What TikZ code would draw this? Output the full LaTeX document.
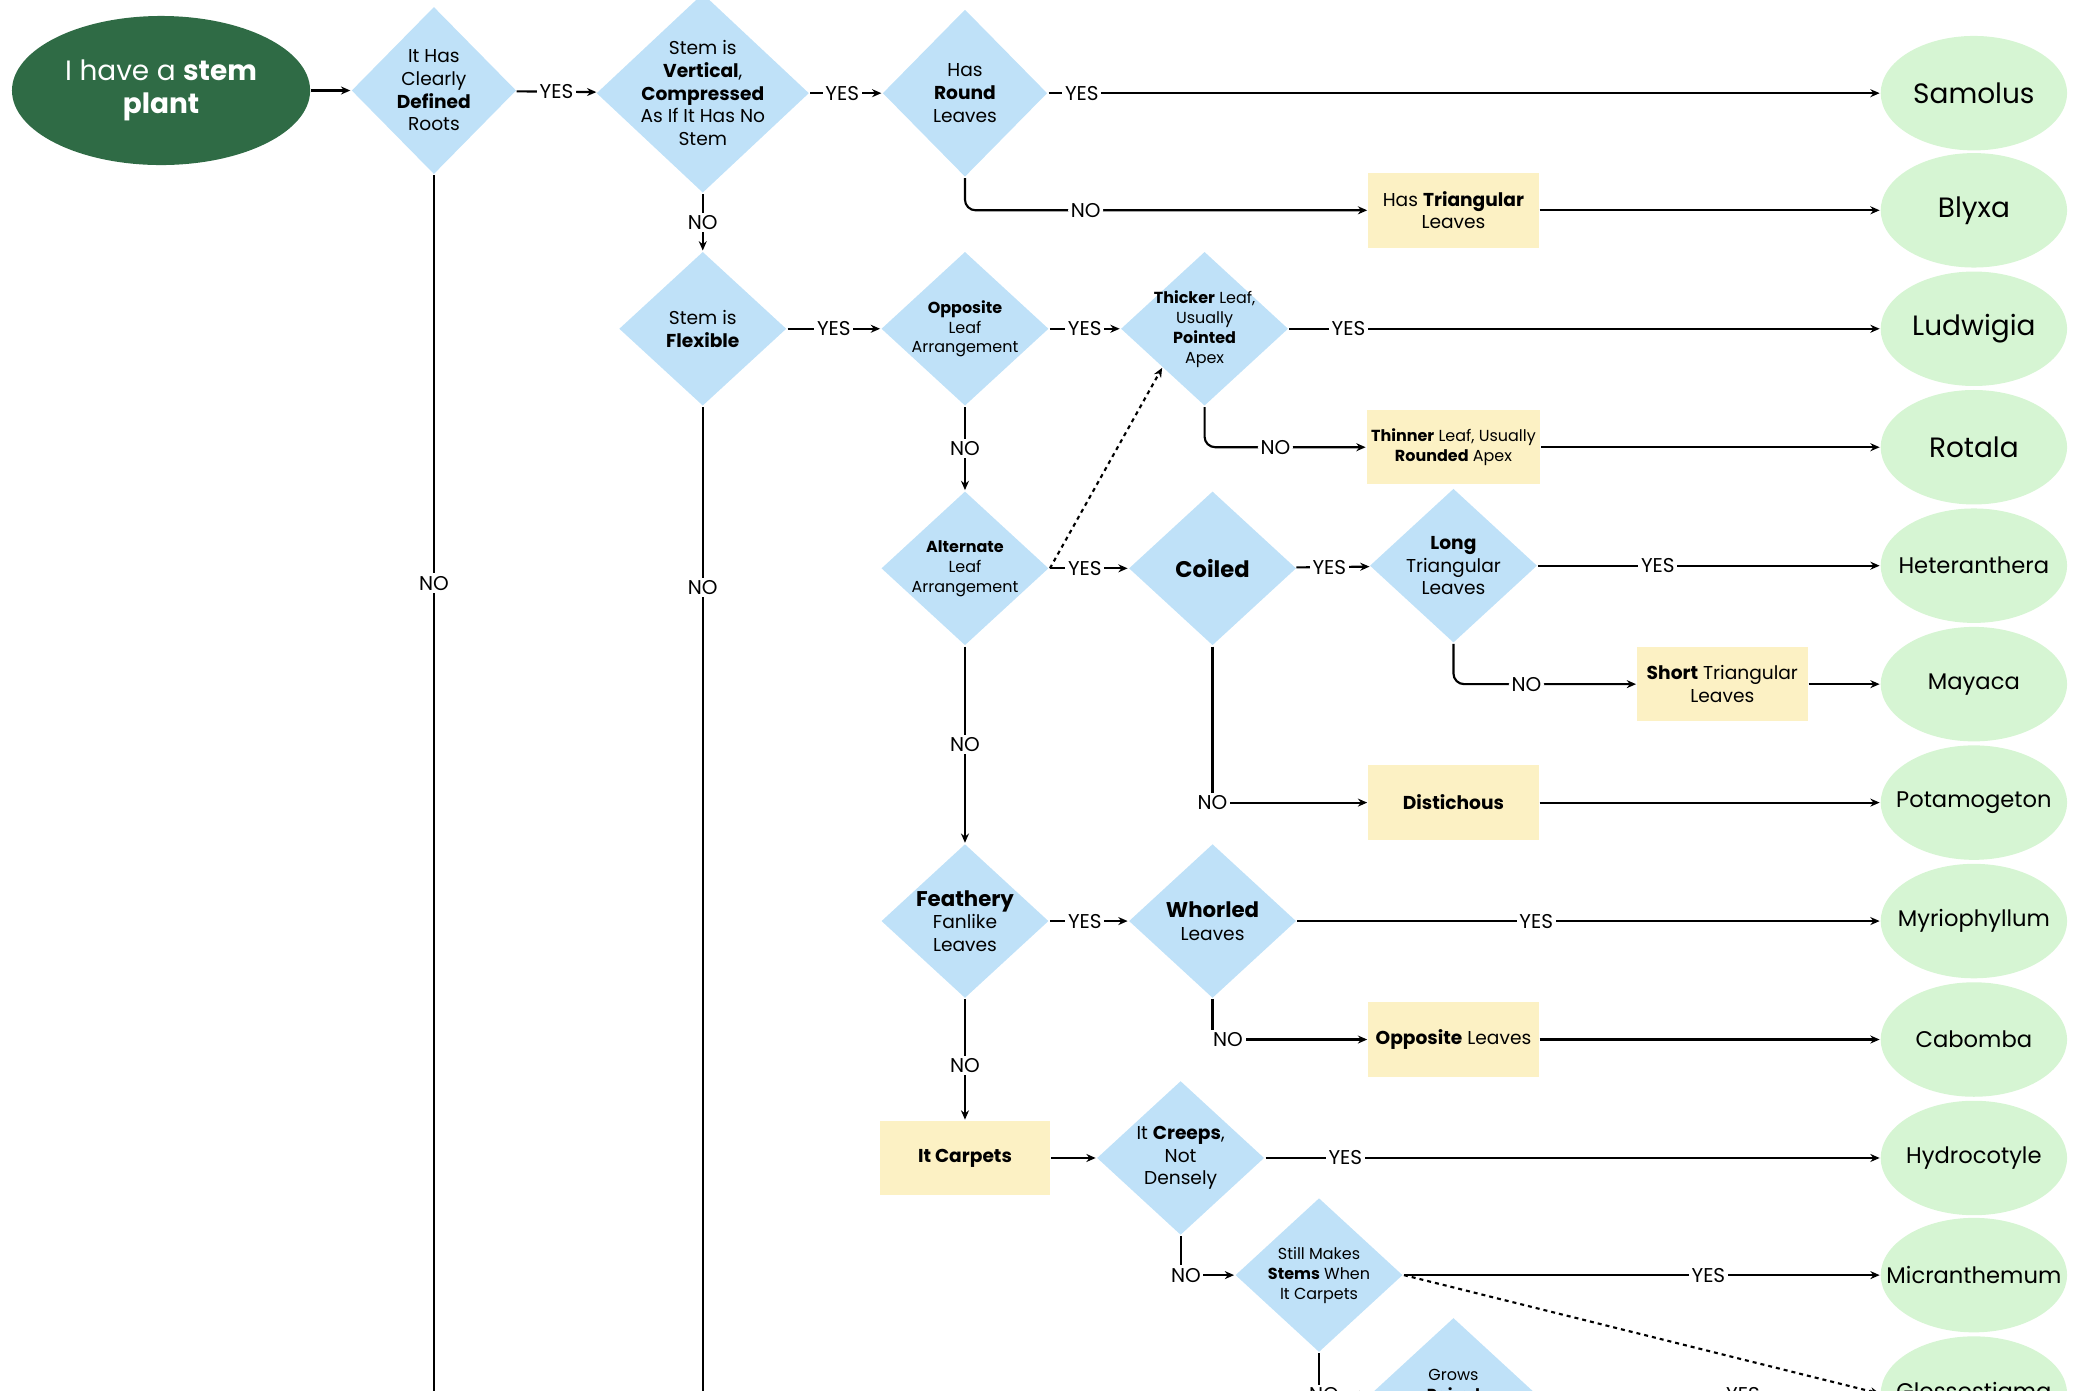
\documentclass[tikz,border=0pt]{standalone}
\usepackage{fontspec}
\setmainfont{Poppins}
\usetikzlibrary{shapes.geometric,arrows.meta,positioning}
\definecolor{dia}{HTML}{BFE1F8}
\definecolor{leaf}{HTML}{D6F5D3}
\definecolor{note}{HTML}{FCF1C4}
\definecolor{start}{HTML}{2F6B45}
\begin{document}
\begin{tikzpicture}[
    x=1pt, y=-1pt,
    % define styles
    q/.style={
        diamond, fill=dia, inner sep=0pt,
        minimum width=126pt, minimum height=116pt
    },
    qtext/.style={
        align=center, font=\fontsize{14}{17}\selectfont, inner sep=0pt
    },
    qsmall/.style={
        align=center, font=\fontsize{12}{15}\selectfont, inner sep=0pt
    },
    plant/.style={
        ellipse, fill=leaf, inner sep=0pt,
        minimum width=140pt, minimum height=86pt,
        label={[inner sep=0pt, font=\fontsize{17}{20}\selectfont]center:#1}
    },
    bigplant/.style={
        ellipse, fill=leaf, inner sep=0pt,
        minimum width=140pt, minimum height=86pt,
        label={[inner sep=0pt, font=\fontsize{21}{24}\selectfont]center:#1}
    },
    box/.style={
        rectangle, fill=note, minimum width=128pt, minimum height=56pt,
        align=center, font=\fontsize{14}{17}\selectfont
    },
    lab/.style={
        fill=white, inner sep=2pt, font=\fontsize{15}{17}\selectfont
    },
    >={Stealth[length=7pt,width=6pt]},
    line width=1.6pt
]
\useasboundingbox (0,0) rectangle (1568,1045);
\clip (0,0) rectangle (1568,1045);

% start node
\node[ellipse, fill=start, minimum width=224pt, minimum height=112pt,
      text=white, align=center, font=\fontsize{21}{25}\selectfont]
      (start) at (121,68) {I have a \textbf{stem}\\\textbf{plant}};

% questions
\node[q, minimum width=124pt, minimum height=126pt,
      label={[qtext]center:{It Has\\Clearly\\\textbf{Defined}\\Roots}}] (roots) at (326,68) {};
\node[q, minimum width=160pt, minimum height=150pt,
      label={[qtext]center:{Stem is\\\textbf{Vertical},\\\textbf{Compressed}\\As If It Has No\\Stem}}] (vert) at (528,70) {};
\node[q, minimum width=124pt, minimum height=126pt,
      label={[qtext]center:{Has\\\textbf{Round}\\Leaves}}] (round) at (725,70) {};
\node[q, label={[qtext]center:{Stem is\\\textbf{Flexible}}}] (flex) at (528,247) {};
\node[q, label={[qsmall]center:{\textbf{Opposite}\\Leaf\\Arrangement}}] (opp) at (725,247) {};
\node[q, label={[qsmall]center:{\textbf{Thicker} Leaf,\\Usually\\\textbf{Pointed}\\Apex}}] (thick) at (905,247) {};
\node[q, label={[qsmall]center:{\textbf{Alternate}\\Leaf\\Arrangement}}] (alt) at (725,427) {};
\node[q, label={[qtext]center:{\fontsize{17}{20}\selectfont\textbf{Coiled}}}] (coil) at (911,427) {};
\node[q, label={[qtext]center:{\textbf{Long}\\Triangular\\Leaves}}] (long) at (1092,425) {};
\node[q, label={[qtext]center:{\fontsize{16}{19}\selectfont\textbf{Feathery}\\Fanlike\\Leaves}}] (feath) at (725,692) {};
\node[q, label={[qtext]center:{\fontsize{16}{19}\selectfont\textbf{Whorled}\\Leaves}}] (whorl) at (911,692) {};
\node[q, label={[qtext]center:{It \textbf{Creeps},\\Not\\Densely}}] (creep) at (887,870) {};
\node[q, label={[qsmall]center:{Still Makes\\\textbf{Stems} When\\It Carpets}}] (still) at (991,958) {};
\node[q, label={[qsmall]center:{Grows\\\textbf{Paired}\\Leaves}}] (paired) at (1092,1048) {};

% notes
\node[box] (tri) at (1092,158) {Has \textbf{Triangular}\\Leaves};
\node[box, font=\fontsize{12}{15}\selectfont] (thin) at (1092,336) {\textbf{Thinner} Leaf, Usually\\\textbf{Rounded} Apex};
\node[box] (short) at (1294,514) {\textbf{Short} Triangular\\Leaves};
\node[box] (dist) at (1092,603) {\textbf{Distichous}};
\node[box] (oppl) at (1092,781) {\textbf{Opposite} Leaves};
\node[box] (carp) at (725,870) {\textbf{It Carpets}};

% plants
\node[bigplant=Samolus] (samolus) at (1483,70) {};
\node[bigplant=Blyxa] (blyxa) at (1483,158) {};
\node[bigplant=Ludwigia] (ludwigia) at (1483,247) {};
\node[bigplant=Rotala] (rotala) at (1483,336) {};
\node[plant=Heteranthera] (hetero) at (1483,425) {};
\node[plant=Mayaca] (mayaca) at (1483,514) {};
\node[plant=Potamogeton] (potamo) at (1483,603) {};
\node[plant=Myriophyllum] (myrio) at (1483,692) {};
\node[plant=Cabomba] (cabomba) at (1483,781) {};
\node[plant=Hydrocotyle] (hydro) at (1483,870) {};
\node[plant=Micranthemum] (micran) at (1483,958) {};
\node[plant=Glossostigma] (glosso) at (1483,1047) {};
\coordinate (bottom) at (0,1060);

% connectors
\draw[->] (start) -- (roots);
\draw[->] (roots) -- (vert) node[lab, pos=0.5] {YES};
\draw (roots.south) -- (roots.south |- bottom) node[lab, pos=0.33] {NO};
\draw[->] (vert) -- (round) node[lab, pos=0.45] {YES};
\draw[->] (vert.south) -- (flex.north) node[lab, pos=0.5] {NO};
\draw[->] (round) -- (samolus) node[lab, pos=0.04] {YES};
\draw[->, rounded corners=8pt] (round.south) |- (tri.west) node[lab, pos=0.65] {NO};
\draw[->] (tri) -- (blyxa);

\draw (flex.south) -- (flex.south |- bottom) node[lab, pos=0.18] {NO};
\draw[->] (flex) -- (opp) node[lab, pos=0.5] {YES};
\draw[->] (opp) -- (thick) node[lab, pos=0.5] {YES};
\draw[->] (thick) -- (ludwigia) node[lab, pos=0.1] {YES};
\draw[->, rounded corners=8pt] (thick.south) |- (thin.west) node[lab, pos=0.72] {NO};
\draw[->] (thin) -- (rotala);
\draw[->] (opp.south) -- (alt.north) node[lab, pos=0.5] {NO};

\draw[->] (alt) -- (coil) node[lab, pos=0.45] {YES};
\draw[->, dashed] (alt.east) -- (thick.south west);
\draw[->] (coil) -- (long) node[lab, pos=0.45] {YES};
\draw[->] (long) -- (hetero) node[lab, pos=0.35] {YES};
\draw[->, rounded corners=8pt] (long.south) |- (short.west) node[lab, pos=0.7] {NO};
\draw[->] (short) -- (mayaca);
\draw[->] (coil.south) |- (dist.west) node[lab, pos=0.5] {NO};
\draw[->] (dist) -- (potamo);
\draw[->] (alt.south) -- (feath.north) node[lab, pos=0.5] {NO};

\draw[->] (feath) -- (whorl) node[lab, pos=0.45] {YES};
\draw[->] (whorl) -- (myrio) node[lab, pos=0.41] {YES};
\draw[->] (whorl.south) |- (oppl.west) node[lab, pos=0.55] {NO};
\draw[->] (oppl) -- (cabomba);
\draw[->] (feath.south) -- (carp.north) node[lab, pos=0.55] {NO};

\draw[->] (carp) -- (creep);
\draw[->] (creep) -- (hydro) node[lab, pos=0.13] {YES};
\draw[->] (creep.south) |- (still.west) node[lab, pos=0.55] {NO};
\draw[->] (still) -- (micran) node[lab, pos=0.64] {YES};
\draw[->, dashed] (still.east) -- (glosso.west);
\draw[->] (still.south) |- (paired.west) node[lab, pos=0.55] {NO};
\draw[->] (paired) -- (glosso) node[lab, pos=0.6] {YES};
\end{tikzpicture}
\end{document}
